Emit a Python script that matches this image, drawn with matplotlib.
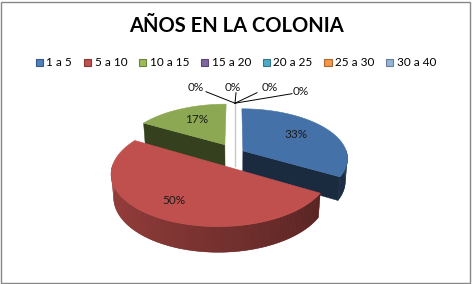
import numpy as np
import matplotlib
matplotlib.use('Agg')
import matplotlib.pyplot as plt
from matplotlib.patches import Polygon, Rectangle, Patch
import matplotlib.colors as mcolors

# ---------------- data ----------------
title = 'AÑOS EN LA COLONIA'
categories = ['1 a 5', '5 a 10', '10 a 15', '15 a 20', '20 a 25', '25 a 30', '30 a 40']
values = [2, 3, 1, 0, 0, 0, 0]
colors = ['#4F81BD', '#C0504D', '#9BBB59', '#8064A2', '#4BACC6', '#F79646', '#95B3D7']
top_colors = ['#4571A9', '#C0504D', '#8CA852', '#8064A2', '#4BACC6', '#F79646', '#95B3D7']
explode = [0.088, 0.27, 0.2, 0.2, 0.2, 0.2, 0.2]
label_r = [0.62, 0.75, 0.62, 1, 1, 1, 1]

FONT = ['Lato', 'DejaVu Sans']
plt.rcParams['font.family'] = FONT

W, H = 472, 284
fig = plt.figure(figsize=(W / 100, H / 100), dpi=100)
ax = fig.add_axes([0, 0, 1, 1])
ax.set_xlim(0, W)
ax.set_ylim(H, 0)
ax.axis('off')

# chart border
fig.patches.append(Rectangle((0.002, 0.004), 0.994, 0.99, transform=fig.transFigure,
                             fill=False, edgecolor='#878787', lw=1.0))

# ---------------- 3D projection ----------------
phi = np.radians(28)
Dcam = 6.0
scale = 104
F = scale * Dcam
cx, cy = 235, 153
thick = 0.25


def proj(u, v, z):
    u = np.asarray(u, float)
    v = np.asarray(v, float)
    depth = Dcam + v * np.cos(phi) - z * np.sin(phi)
    up = v * np.sin(phi) + z * np.cos(phi)
    return cx + F * u / depth, cy - F * up / depth


def shade(c, f):
    r, g, b = mcolors.to_rgb(c)
    return (min(r * f, 1), min(g * f, 1), min(b * f, 1))


def poly(uu, vv, zz):
    pts = [proj(uu[k], vv[k], zz[k]) for k in range(len(uu))]
    return np.array(pts)


total = float(sum(values))
starts = np.concatenate([[0], np.cumsum(values)[:-1]]) / total * 360
ends = np.cumsum(values) / total * 360
mids = (starts + ends) / 2

# zero-value slices: thin edge at the back
zero_idx = [i for i in range(len(values)) if values[i] == 0]
for i in zero_idx:
    a = np.radians(ends[i])
    e = explode[i]
    du, dv = e * np.sin(a), e * np.cos(a)
    p = poly([du + np.sin(a), du, du], [dv + np.cos(a), dv, dv], [0, 0, -thick])
    ax.plot(p[:, 0], p[:, 1], color='#c9c9c9', lw=0.8, zorder=1)

# back-to-front drawing order
order = sorted([i for i in range(len(values)) if values[i] > 0],
               key=lambda i: -np.cos(np.radians(mids[i])))

for i in order:
    t0, t1, m, e = starts[i], ends[i], mids[i], explode[i]
    du, dv = e * np.sin(np.radians(m)), e * np.cos(np.radians(m))
    base = top_colors[i]
    # cut faces
    faces = []
    if np.sin(np.radians(t0)) < -1e-6:
        faces.append(t0)
    if np.sin(np.radians(t1)) > 1e-6:
        faces.append(t1)
    for t in faces:
        a = np.radians(t)
        p = poly([du, du + np.sin(a), du + np.sin(a), du],
                 [dv, dv + np.cos(a), dv + np.cos(a), dv],
                 [0, 0, -thick, -thick])
        c = shade(base, 0.38)
        ax.add_patch(Polygon(p, closed=True, facecolor=c, edgecolor=c, lw=0.3, zorder=2))
    # curved side
    lo, hi = max(t0, 90), min(t1, 270)
    if hi > lo:
        tt = np.linspace(lo, hi, 90)
        ar = np.radians(tt)
        uu = np.concatenate([du + np.sin(ar), du + np.sin(ar[::-1])])
        vv = np.concatenate([dv + np.cos(ar), dv + np.cos(ar[::-1])])
        zz = np.concatenate([np.zeros(len(ar)), -thick * np.ones(len(ar))])
        fmid = 0.36 + 0.5 * ((lo + hi) / 2 - 90) / 180
        c = shade(base, fmid)
        ax.add_patch(Polygon(poly(uu, vv, zz), closed=True, facecolor=c, edgecolor=c,
                             lw=0.3, zorder=2))
        for k in range(len(tt) - 1):
            a0, a1 = ar[k], ar[k + 1]
            p = poly([du + np.sin(a0), du + np.sin(a1), du + np.sin(a1), du + np.sin(a0)],
                     [dv + np.cos(a0), dv + np.cos(a1), dv + np.cos(a1), dv + np.cos(a0)],
                     [0, 0, -thick, -thick])
            f = 0.36 + 0.5 * ((tt[k] + tt[k + 1]) / 2 - 90) / 180
            c = shade(base, f)
            ax.add_patch(Polygon(p, closed=True, facecolor=c, edgecolor='none', lw=0, zorder=2))
    # top face
    arc = np.radians(np.linspace(t0, t1, 120))
    uu = np.concatenate([[du], du + np.sin(arc)])
    vv = np.concatenate([[dv], dv + np.cos(arc)])
    xs, ys = proj(uu, vv, 0)
    ax.add_patch(Polygon(np.column_stack([xs, ys]), closed=True,
                         facecolor=base, edgecolor=base, lw=0.4, zorder=2))
    # percentage label
    r = label_r[i]
    lx, ly = proj(du + r * np.sin(np.radians(m)), dv + r * np.cos(np.radians(m)), 0)
    ax.text(lx, ly - 2, f'{values[i] / total * 100:.0f}%', ha='center', va='center',
            fontsize=8.5, color='#1a1a1a', zorder=3)

# zero-value labels with leader lines from the top rim point
line_offsets = [(-29, -11.5), (1, -10.5), (22, -10.5), (57, -9.5)]
text_offsets = [(-31, -15.5), (-2.5, -15.5), (27, -15.5), (58, -12)]
aligns = ['right', 'center', 'left', 'left']
for j, i in enumerate(zero_idx):
    a = np.radians(ends[i])
    e = explode[i]
    ax0, ay0 = proj((1 + e) * np.sin(a), (1 + e) * np.cos(a), 0)
    ox, oy = line_offsets[j]
    ax.plot([ax0, ax0 + ox], [ay0, ay0 + oy], color='black', lw=0.7, zorder=3)
    tx, ty = text_offsets[j]
    ax.text(ax0 + tx, ay0 + ty, f'{values[i] / total * 100:.0f}%', ha=aligns[j], va='center',
            fontsize=8.5, color='#1a1a1a', zorder=3)

# title
fig.text(0.5, 1 - 26 / H, title, ha='center', va='center', fontsize=14.5,
         fontweight='bold', color='black')

# legend
handles = [Patch(facecolor=colors[i], edgecolor=shade(colors[i], 0.7), lw=0.8)
           for i in range(len(categories))]
fig.legend(handles, categories, loc='center', bbox_to_anchor=(0.5, 1 - 63 / H), ncol=7,
           frameon=False, fontsize=8.5, handlelength=0.6, handleheight=0.6,
           handletextpad=0.3, columnspacing=1.0, borderpad=0)

fig.savefig('out.png', dpi=100)
